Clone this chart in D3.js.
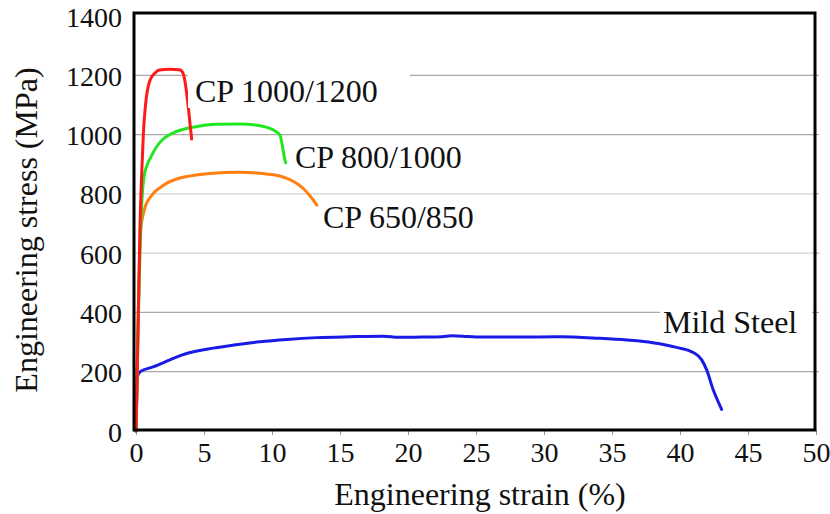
<!DOCTYPE html>
<html>
<head>
<meta charset="utf-8">
<script src="https://cdn.jsdelivr.net/npm/d3@7"></script>
<style>
  html, body { margin: 0; padding: 0; background: #fff; }
  svg { display: block; }
</style>
</head>
<body>
<svg id="chart" width="830" height="514" font-family="Liberation Serif, Times New Roman, serif"></svg>
<script>
// ---- data (strain %, stress MPa) ----
const xTicks = [0, 5, 10, 15, 20, 25, 30, 35, 40, 45, 50];
const yTicks = [0, 200, 400, 600, 800, 1000, 1200, 1400];

const cp1000 = [[0,0],[0.1,220],[0.2,470],[0.3,700],[0.42,869],[0.55,1010],[0.7,1100],[1.0,1180],[1.4,1208],[1.7,1218],[2.5,1220],[3.2,1219],[3.45,1208],[3.6,1180],[3.85,1090],[4.09,985]];
const cp800 = [[0,0],[0.15,330],[0.3,620],[0.45,790],[0.6,860],[0.8,895],[1.1,925],[1.5,958],[2.0,985],[2.75,1006],[3.5,1018],[4.2,1025],[5.9,1035],[7.6,1036],[9.1,1030],[9.8,1022],[10.3,1010],[10.6,997],[10.75,965],[10.9,925],[11.0,905]];
const cp650 = [[0,0],[0.12,300],[0.25,560],[0.35,680],[0.5,725],[0.7,760],[1.0,785],[1.3,803],[1.8,822],[2.3,837],[3.0,850],[3.8,859],[5.4,869],[7.6,873],[9.6,867],[10.5,861],[11.1,852],[11.8,836],[12.3,818],[12.8,793],[13.3,762]];
const mildSteel = [[0,0],[0.05,100],[0.1,183],[0.3,200],[1.3,217],[2.5,240],[3.3,255],[3.9,264],[5.2,276],[7.2,290],[9.1,301],[11.1,309],[13.3,315],[15.7,318],[18.2,320],[19.3,316],[21,317],[22.5,318],[23.2,321],[24,320],[25,317],[28,317],[31.2,318],[34,313],[36.1,307],[38,298],[39.75,282],[41,264],[41.6,240],[41.96,206],[42.45,138],[43.06,73]];

const seriesNames = ["Mild Steel", "CP 650/850", "CP 800/1000", "CP 1000/1200"];
const seriesColors = ["#1a1ae6", "#ff7f10", "#22e622", "#ff1a1a"];

const FONT = "Liberation Serif";

// ---- layout ----
const svg = d3.select("#chart");
const plotLeft = 135, plotRight = 815, plotTop = 15, plotBottom = 430;
const x = d3.scaleLinear().domain([0, 50]).range([plotLeft + 1, plotRight + 1]);
const y = d3.scaleLinear().domain([0, 1400]).range([431, 16]);

// gridlines
const gridShade = d => (d === 600 || d === 800) ? "#d2d2d2" : "#a9a9a9";
svg.append("g").selectAll("line")
  .data(yTicks.filter(d => d > 0 && d < 1400))
  .join("line")
  .attr("x1", plotLeft).attr("x2", plotRight)
  .attr("y1", d => y(d)).attr("y2", d => y(d))
  .attr("stroke", gridShade).attr("stroke-width", 1.3);

// small outer ticks on the right border
svg.append("g").selectAll("line")
  .data(yTicks.filter(d => d > 0 && d < 1400))
  .join("line")
  .attr("x1", plotRight).attr("x2", plotRight + 4)
  .attr("y1", d => y(d)).attr("y2", d => y(d))
  .attr("stroke", "#999").attr("stroke-width", 1);

// x axis (ticks + labels)
const xAxis = d3.axisBottom(x).tickValues(xTicks).tickSize(5).tickPadding(7).tickFormat(d3.format("d"));
const gx = svg.append("g").attr("transform", `translate(0,${plotBottom})`).call(xAxis)
  .attr("font-family", FONT);
gx.select(".domain").remove();
gx.selectAll(".tick line").attr("stroke", "#999");
gx.selectAll(".tick text").attr("font-size", 28).attr("font-family", FONT).attr("fill", "#111");

// y axis labels
const yAxis = d3.axisLeft(y).tickValues(yTicks).tickSize(0).tickPadding(13).tickFormat(d3.format("d"));
const gy = svg.append("g").attr("transform", `translate(${plotLeft},0)`).call(yAxis)
  .attr("font-family", FONT);
gy.select(".domain").remove();
gy.selectAll(".tick text").attr("font-size", 28).attr("font-family", FONT).attr("fill", "#111").attr("dy", "0.36em");

// curves
const line = d3.line().x(d => x(d[0])).y(d => y(d[1])).curve(d3.curveMonotoneX);
const allSeries = [mildSteel, cp650, cp800, cp1000];
svg.append("g").selectAll("path")
  .data(allSeries)
  .join("path")
  .attr("d", line)
  .attr("fill", "none")
  .attr("stroke", (d, i) => seriesColors[i])
  .attr("stroke-width", 3)
  .attr("stroke-linejoin", "round")
  .attr("stroke-linecap", "round");

// frame
svg.append("rect")
  .attr("x", plotLeft - 1).attr("y", plotTop - 2)
  .attr("width", plotRight - plotLeft + 1).attr("height", plotBottom - plotTop + 2)
  .attr("fill", "none").attr("stroke", "#000").attr("stroke-width", 3);

// series labels (white boxes hide gridlines)
const labelPos = [
  { name: seriesNames[3], x: 195, y: 102, boxX: 188, boxW: 222 },
  { name: seriesNames[2], x: 295, y: 168, boxX: 0, boxW: 0 },
  { name: seriesNames[1], x: 323, y: 228, boxX: 0, boxW: 0 },
  { name: seriesNames[0], x: 663, y: 333, boxX: 660, boxW: 152 }
];
const lg = svg.append("g");
labelPos.forEach(p => {
  if (p.boxW > 0) {
    lg.append("rect").attr("x", p.boxX).attr("y", p.y - 30).attr("width", p.boxW).attr("height", 36).attr("fill", "#fff");
  }
  lg.append("text").attr("x", p.x).attr("y", p.y).attr("font-size", 32).attr("font-family", FONT).attr("fill", "#111").text(p.name);
});

// axis titles
svg.append("text").attr("x", 480).attr("y", 505).attr("text-anchor", "middle").attr("font-size", 32)
  .attr("font-family", FONT).attr("fill", "#111").text("Engineering strain (%)");
svg.append("text").attr("transform", "translate(37,230) rotate(-90)").attr("text-anchor", "middle").attr("font-size", 32)
  .attr("font-family", FONT).attr("fill", "#111").text("Engineering stress (MPa)");
</script>
</body>
</html>
